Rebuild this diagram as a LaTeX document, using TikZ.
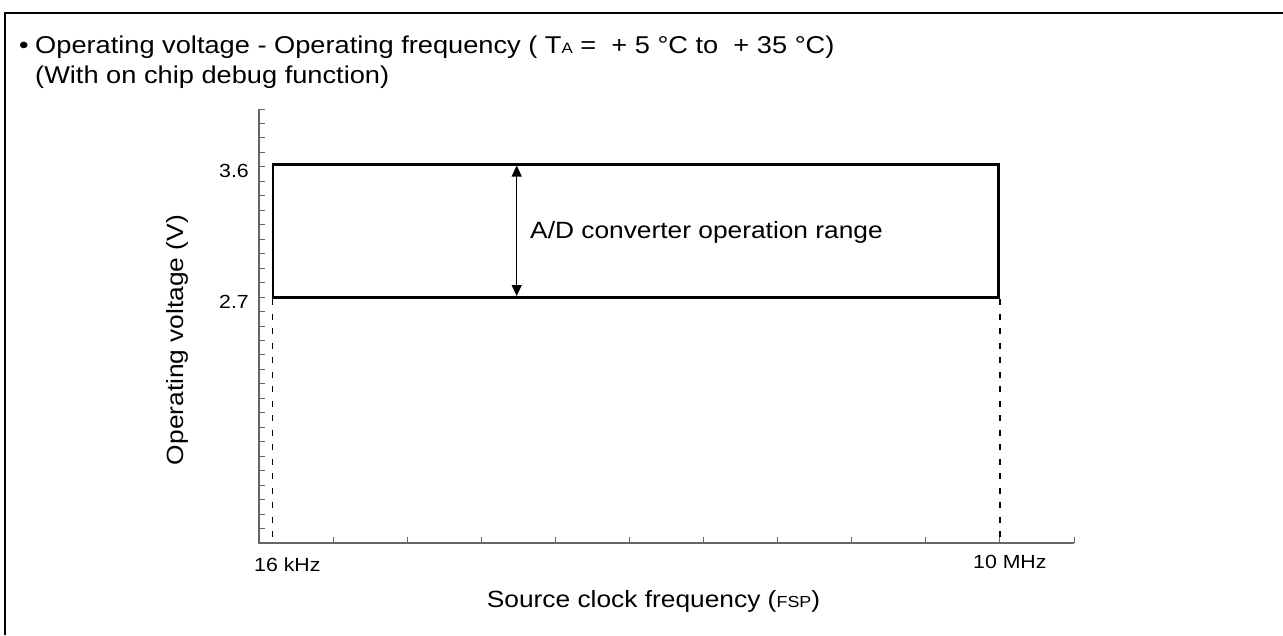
\documentclass[tikz,border=0pt]{standalone}
\usepackage{fontspec}
\setmainfont{Liberation Sans}[FakeStretch=1.12]
\usetikzlibrary{arrows.meta}

\begin{document}
\begin{tikzpicture}[x=1pt,y=-1pt,
  frameline/.style={draw=black, line width=2pt},
  axis/.style={draw=black!60, line width=1.3pt},
  tickmark/.style={draw=black!60, line width=1pt},
  rangebox/.style={draw=black, line width=2.4pt},
  guide/.style={draw=black, line width=1.3pt, dash pattern=on 6pt off 8.5pt},
  span/.style={draw=black, line width=1.2pt, {Triangle[length=11pt,width=10pt]}-{Triangle[length=11pt,width=10pt]}},
  lbl/.style={font=\fontsize{23.5}{28}\selectfont, inner sep=0pt},
  head/.style={font=\fontsize{24.3}{29}\selectfont, inner sep=0pt},
  num/.style={font=\fontsize{19}{23}\selectfont, inner sep=0pt},
]
\useasboundingbox (0,0) rectangle (1283,635);

% page frame (top and left edges)
\draw[frameline] (5,635) -- (5,12.5) -- (1283,12.5);

% heading
\node[head, anchor=base] (bul) at (24,53.5) {•};
\node[head, anchor=base west] (title1) at (35,53.5)
  {Operating voltage - Operating frequency ( T{\fontsize{15}{18}\selectfont A} = \ + 5 °C to \ + 35 °C)};
\node[head, anchor=base west] (title2) at (35,83.5) {(With on chip debug function)};

% axes
\coordinate (O) at (259,543);
\coordinate (ytop) at (259,109);
\coordinate (xend) at (1074,543);
\draw[axis] (ytop) -- (O) -- (xend);

% vertical ticks
\foreach \k in {0,...,29}
  \draw[tickmark] (259,{109+14.467*\k}) -- ++(6,0);
% horizontal ticks
\foreach \k in {1,...,11}
  \draw[tickmark] ({259+74.09*\k},543) -- ++(0,-6);

% tick labels
\node[num, anchor=base east] (v36) at (249,177.5) {3.6};
\node[num, anchor=base east] (v27) at (249,308) {2.7};
\node[num, anchor=base west] (f16) at (254,571.5) {16 kHz};
\node[num, anchor=base west] (f10) at (973,568.5) {10 MHz};

% axis titles
\node[lbl, anchor=base west] (xlabel) at (486.7,607)
  {Source clock frequency ({\fontsize{16}{19}\selectfont FSP})};
\node[lbl, rotate=90] (ylabel) at (177,340) {Operating voltage (V)};

% operating range box
\coordinate (bl) at (273,297.3);
\coordinate (tr) at (998.5,164.3);
\draw[rangebox] (bl) rectangle (tr);

% dashed guides down to the frequency axis
\coordinate (gl) at (272.5,299);
\coordinate (glb) at (272.5,543);
\coordinate (gr) at (1000,299);
\coordinate (grb) at (1000,543);
\draw[guide] (gl) -- (glb);
\draw[guide] (gr) -- (grb);

% A/D range arrow
\coordinate (atop) at (516.7,165.5);
\coordinate (abot) at (516.7,296);
\draw[span] (atop) -- (abot);
\node[lbl, anchor=base west] (adlabel) at (530,238) {A/D converter operation range};
\end{tikzpicture}
\end{document}
